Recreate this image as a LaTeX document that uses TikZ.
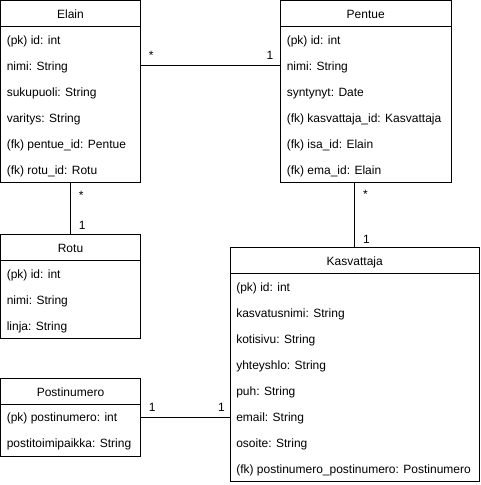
\documentclass[tikz,border=0pt]{standalone}
\usepackage{fontspec}
\setmainfont{Liberation Sans}
\usetikzlibrary{calc,fit}

\begin{document}
\begin{tikzpicture}[x=.75pt,y=-.75pt,
		tbl/.style={draw,line width=.75pt,inner sep=0pt,outer sep=0pt},
		hd/.style={anchor=base,inner sep=0pt,font=\fontsize{9}{11}\selectfont},
		fld/.style={anchor=west,inner sep=0pt,text height=8.5pt,text depth=1.75pt,font=\fontsize{9}{11}\selectfont},
		lbl/.style={inner sep=0pt,font=\fontsize{9}{11}\selectfont},
		conn/.style={line width=.75pt}]
		\useasboundingbox (-.5,-.5) rectangle (479.5,484.5);
		% tables
		\node[tbl,fit={(0,0) (140,182)}] (elain) {};
		\node[tbl,fit={(280,0) (450.5,182)}] (pentue) {};
		\node[tbl,fit={(0,234) (140,338)}] (rotu) {};
		\node[tbl,fit={(229.5,247) (479,481)}] (kasvattaja) {};
		\node[tbl,fit={(0,377.5) (140,455.5)}] (postinumero) {};
		\draw[conn] ([yshift=-19.5pt]elain.north west) -- ([yshift=-19.5pt]elain.north east)
		([yshift=-19.5pt]pentue.north west) -- ([yshift=-19.5pt]pentue.north east)
		([yshift=-19.5pt]rotu.north west) -- ([yshift=-19.5pt]rotu.north east)
		([yshift=-19.5pt]kasvattaja.north west) -- ([yshift=-19.5pt]kasvattaja.north east)
		([yshift=-19.5pt]postinumero.north west) -- ([yshift=-19.5pt]postinumero.north east);
		\path (elain.north) ++(0,18) node[hd] (elainHd) {Elain}
		(pentue.north) ++(0,18) node[hd] (pentueHd) {Pentue}
		(rotu.north) ++(0,18) node[hd] (rotuHd) {Rotu}
		(kasvattaja.north) ++(0,18) node[hd] (kasvattajaHd) {Kasvattaja}
		(postinumero.north) ++(0,18) node[hd] (postinumeroHd) {Postinumero};
		% fields
		\path (elain.north west) ++(6,39) node[fld] (elain1) {(pk) id: int}
		++(0,26) node[fld] (elain2) {nimi: String}
		++(0,26) node[fld] (elain3) {sukupuoli: String}
		++(0,26) node[fld] (elain4) {varitys: String}
		++(0,26) node[fld] (elain5) {(fk) pentue\_id: Pentue}
		++(0,26) node[fld] (elain6) {(fk) rotu\_id: Rotu};
		\path (pentue.north west) ++(6,39) node[fld] (pentue1) {(pk) id: int}
		++(0,26) node[fld] (pentue2) {nimi: String}
		++(0,26) node[fld] (pentue3) {syntynyt: Date}
		++(0,26) node[fld] (pentue4) {(fk) kasvattaja\_id: Kasvattaja}
		++(0,26) node[fld] (pentue5) {(fk) isa\_id: Elain}
		++(0,26) node[fld] (pentue6) {(fk) ema\_id: Elain};
		\path (rotu.north west) ++(6,39) node[fld] (rotu1) {(pk) id: int}
		++(0,26) node[fld] (rotu2) {nimi: String}
		++(0,26) node[fld] (rotu3) {linja: String};
		\path (kasvattaja.north west) ++(6,39) node[fld] (kasvattaja1) {(pk) id: int}
		++(0,26) node[fld] (kasvattaja2) {kasvatusnimi: String}
		++(0,26) node[fld] (kasvattaja3) {kotisivu: String}
		++(0,26) node[fld] (kasvattaja4) {yhteyshlo: String}
		++(0,26) node[fld] (kasvattaja5) {puh: String}
		++(0,26) node[fld] (kasvattaja6) {email: String}
		++(0,26) node[fld] (kasvattaja7) {osoite: String}
		++(0,26) node[fld] (kasvattaja8) {(fk) postinumero\_postinumero: Postinumero};
		\path (postinumero.north west) ++(6,39) node[fld] (postinumero1) {(pk) postinumero: int}
		++(0,26) node[fld] (postinumero2) {postitoimipaikka: String};
		% relations
		\draw[conn] (elain2 -| elain.east) -- (elain2 -| pentue.west);
		\path (elain2 -| elain.east) ++(8,-6) node[lbl,anchor=base west] (elainPentueA) {*}
		(elain2 -| pentue.west) ++(-7,-6) node[lbl,anchor=base east] (elainPentueB) {1};
		\draw[conn] (elain.south) -- (rotu.north);
		\path (elain.south) ++(8,17) node[lbl,anchor=base west] (elainRotuA) {*}
		(rotu.north) ++(8,-5) node[lbl,anchor=base west] (elainRotuB) {1};
		\draw[conn] (pentue.south -| kasvattaja.north) -- (kasvattaja.north);
		\path (pentue.south -| kasvattaja.north) ++(8,16) node[lbl,anchor=base west] (pentueKasvA) {*}
		(kasvattaja.north) ++(8,-4) node[lbl,anchor=base west] (pentueKasvB) {1};
		\draw[conn] (postinumero1 -| postinumero.east) -- (postinumero1 -| kasvattaja.west);
		\path (postinumero1 -| postinumero.east) ++(8,-6) node[lbl,anchor=base west] (postKasvA) {1}
		(postinumero1 -| kasvattaja.west) ++(-5,-6) node[lbl,anchor=base east] (postKasvB) {1};
	\end{tikzpicture}
\end{document}
